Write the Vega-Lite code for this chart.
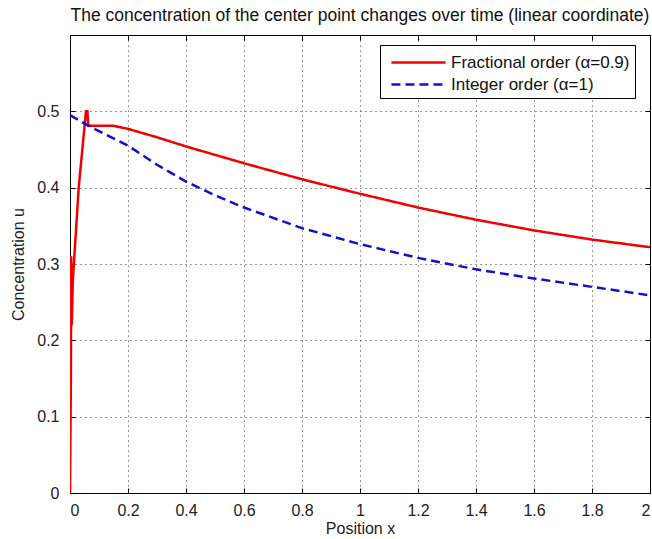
{
  "$schema": "https://vega.github.io/schema/vega-lite/v6.json",
  "autosize": "none",
  "padding": {"left": 70, "top": 35, "right": 2, "bottom": 46},
  "width": 580,
  "height": 458,
  "background": "white",
  "title": {"text": "The concentration of the center point changes over time (linear coordinate)", "font": "Liberation Sans", "fontSize": 17.5, "fontWeight": "normal", "color": "#111", "offset": 10},
  "config": {
    "view": {"stroke": "black", "strokeWidth": 1},
    "axis": {"labelFont": "Liberation Sans", "titleFont": "Liberation Sans", "labelFontSize": 16, "titleFontSize": 16, "titleFontWeight": "normal", "labelColor": "#222", "titleColor": "#222", "domainColor": "black", "tickColor": "black", "tickSize": -5, "format": "~g"},
    "legend": {"labelFont": "Liberation Sans", "labelFontSize": 17, "labelColor": "#111", "labelLimit": 400}
  },
  "data": {"values": [
    {"x": 0, "u": 0, "s": "Fractional order (α=0.9)"},
    {"x": 0.003, "u": 0.15, "s": "Fractional order (α=0.9)"},
    {"x": 0.004, "u": 0.31, "s": "Fractional order (α=0.9)"},
    {"x": 0.006, "u": 0.22, "s": "Fractional order (α=0.9)"},
    {"x": 0.01, "u": 0.28, "s": "Fractional order (α=0.9)"},
    {"x": 0.02, "u": 0.34, "s": "Fractional order (α=0.9)"},
    {"x": 0.03, "u": 0.40, "s": "Fractional order (α=0.9)"},
    {"x": 0.045, "u": 0.46, "s": "Fractional order (α=0.9)"},
    {"x": 0.055, "u": 0.50, "s": "Fractional order (α=0.9)"},
    {"x": 0.06, "u": 0.50, "s": "Fractional order (α=0.9)"},
    {"x": 0.063, "u": 0.481, "s": "Fractional order (α=0.9)"},
    {"x": 0.1, "u": 0.481, "s": "Fractional order (α=0.9)"},
    {"x": 0.15, "u": 0.481, "s": "Fractional order (α=0.9)"},
    {"x": 0.2, "u": 0.477, "s": "Fractional order (α=0.9)"},
    {"x": 0.3, "u": 0.466, "s": "Fractional order (α=0.9)"},
    {"x": 0.4, "u": 0.454, "s": "Fractional order (α=0.9)"},
    {"x": 0.5, "u": 0.443, "s": "Fractional order (α=0.9)"},
    {"x": 0.6, "u": 0.432, "s": "Fractional order (α=0.9)"},
    {"x": 0.8, "u": 0.411, "s": "Fractional order (α=0.9)"},
    {"x": 1.0, "u": 0.392, "s": "Fractional order (α=0.9)"},
    {"x": 1.2, "u": 0.374, "s": "Fractional order (α=0.9)"},
    {"x": 1.4, "u": 0.358, "s": "Fractional order (α=0.9)"},
    {"x": 1.6, "u": 0.344, "s": "Fractional order (α=0.9)"},
    {"x": 1.8, "u": 0.332, "s": "Fractional order (α=0.9)"},
    {"x": 2.0, "u": 0.322, "s": "Fractional order (α=0.9)"},
    {"x": 0, "u": 0.495, "s": "Integer order (α=1)"},
    {"x": 0.05, "u": 0.484, "s": "Integer order (α=1)"},
    {"x": 0.1, "u": 0.474, "s": "Integer order (α=1)"},
    {"x": 0.2, "u": 0.455, "s": "Integer order (α=1)"},
    {"x": 0.3, "u": 0.43, "s": "Integer order (α=1)"},
    {"x": 0.4, "u": 0.408, "s": "Integer order (α=1)"},
    {"x": 0.5, "u": 0.39, "s": "Integer order (α=1)"},
    {"x": 0.6, "u": 0.374, "s": "Integer order (α=1)"},
    {"x": 0.8, "u": 0.347, "s": "Integer order (α=1)"},
    {"x": 1.0, "u": 0.326, "s": "Integer order (α=1)"},
    {"x": 1.2, "u": 0.308, "s": "Integer order (α=1)"},
    {"x": 1.4, "u": 0.293, "s": "Integer order (α=1)"},
    {"x": 1.6, "u": 0.281, "s": "Integer order (α=1)"},
    {"x": 1.8, "u": 0.27, "s": "Integer order (α=1)"},
    {"x": 2.0, "u": 0.259, "s": "Integer order (α=1)"}
  ]},
  "layer": [
    {
      "mark": {"type": "line", "strokeWidth": 2.5, "clip": true, "opacity": 0},
      "encoding": {
        "x": {"field": "x", "type": "quantitative", "scale": {"domain": [0, 2], "nice": false}, "axis": {"orient": "top", "values": [0, 0.2, 0.4, 0.6, 0.8, 1, 1.2, 1.4, 1.6, 1.8, 2], "labels": false, "title": null, "grid": false}},
        "y": {"field": "u", "type": "quantitative", "scale": {"domain": [0, 0.6], "nice": false}, "axis": {"orient": "right", "values": [0, 0.1, 0.2, 0.3, 0.4, 0.5], "labels": false, "title": null, "grid": false}},
        "detail": {"field": "s"},
        "order": {"field": "x", "type": "quantitative"}
      }
    },
    {
      "mark": {"type": "line", "strokeWidth": 2.5, "clip": true},
      "encoding": {
        "x": {"field": "x", "type": "quantitative", "title": "Position x", "scale": {"domain": [0, 2], "nice": false}, "axis": {"orient": "bottom", "values": [0, 0.2, 0.4, 0.6, 0.8, 1, 1.2, 1.4, 1.6, 1.8, 2], "labelPadding": 14, "titlePadding": 2, "grid": true, "gridColor": "black", "gridDash": [1, 4], "gridOpacity": 0.8}},
        "y": {"field": "u", "type": "quantitative", "title": "Concentration u", "scale": {"domain": [0, 0.6], "nice": false}, "axis": {"orient": "left", "values": [0, 0.1, 0.2, 0.3, 0.4, 0.5], "labelPadding": 16, "titlePadding": 10, "grid": true, "gridColor": "black", "gridDash": [1, 4], "gridOpacity": 0.8}},
        "color": {"field": "s", "type": "nominal", "title": null, "scale": {"domain": ["Fractional order (α=0.9)", "Integer order (α=1)"], "range": ["#f00000", "#1010c8"]}, "legend": {"orient": "none", "legendX": 310, "legendY": 10, "strokeColor": "black", "fillColor": "white", "padding": 5, "symbolType": "M-0.55,0H4.36", "symbolSize": 484, "symbolStrokeWidth": 2.5, "rowPadding": 1, "labelOffset": 41}},
        "strokeDash": {"field": "s", "type": "nominal", "title": null, "scale": {"domain": ["Fractional order (α=0.9)", "Integer order (α=1)"], "range": [[1, 0], [9, 5]]}},
        "order": {"field": "x", "type": "quantitative"}
      }
    }
  ],
  "resolve": {"axis": {"x": "independent", "y": "independent"}}
}
